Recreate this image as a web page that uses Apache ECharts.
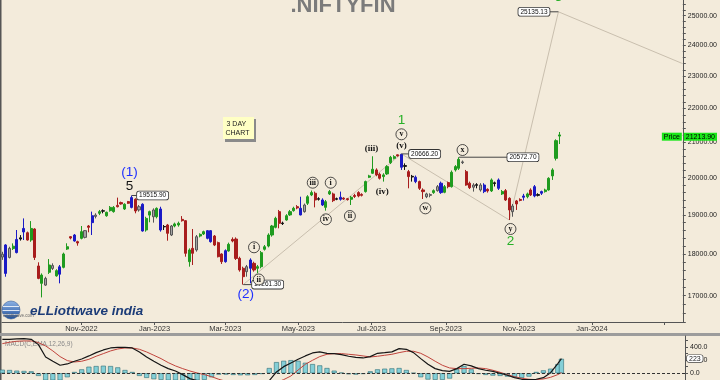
<!DOCTYPE html>
<html><head><meta charset="utf-8">
<script src="https://cdn.jsdelivr.net/npm/echarts@6/dist/echarts.min.js"></script>
<style>html,body{margin:0;padding:0;background:#f3ebdb;}#c{width:720px;height:380px;}</style>
</head><body><div id="c"></div>
<script>
// ---------- data ----------
const firstBarDate = '2022-08-27';   // date of first 3-day bar
const barStepDays = 3;
const open = [
17930,18230,17920,18140,18040,18380,18560,18540,18355,18636,
17710,17292,17410,17557,17720,17470,17510,17677,18128,18440,
18482,18314,18397,18593,18713,18800,18996,19043,19100,18979,
19113,19087,19252,19326,19157,19352,19199,19414,19216,19282,
18610,18996,19131,18953,19157,18700,18739,18482,18713,18739,
18885,18851,17816,18145,18105,18456,18508,18593,18593,18456,
18289,18005,17816,18080,18372,18380,17898,17654,17572,17654,
17775,17654,17693,18122,18203,18482,18679,19087,18790,18868,
19000,19113,19218,19175,19087,19308,19530,19577,19430,19396,
19200,19558,19558,19430,19414,19445,19430,19414,19515,19594,
19545,19621,20013,20123,20215,20096,20031,20105,20418,20541,
20640,20655,20336,20168,20040,20013,19893,19665,19483,19520,
19594,19647,19594,19603,19866,19755,20215,20262,20440,20168,
19849,19740,19810,19800,19621,19683,19640,19860,19938,19558,
19647,19440,19087,19370,19410,19468,19483,19665,19503,19540,
19577,19621,19665,20050,20541,21180];
const close = [
18000,17530,18145,18200,18370,18410,18650,18355,18650,17920,
17410,17490,17250,17734,17650,17597,17690,18005,18186,18405,
18330,18280,18568,18422,18679,18979,18962,19087,19110,19069,
19199,19199,19216,19290,19282,19308,19459,19104,19131,18585,
18910,19087,18953,19173,18610,18690,18525,18713,18766,18783,
18851,18022,18105,18022,18439,18499,18568,18397,18314,18229,
17938,17816,18088,18246,18330,17895,17613,17451,17693,17857,
17613,17693,18039,18186,18482,18713,18912,18783,18775,18980,
19087,19175,19184,19000,19262,19483,19594,19396,19415,19262,
19351,19621,19378,19415,19468,19420,19405,19468,19490,19503,
19520,19893,20050,20234,20077,19985,20077,20308,20570,20588,
20610,20290,20315,20031,20020,19893,19710,19621,19558,19540,
19647,19755,19849,19755,19755,20150,20308,20512,20420,19800,
19728,19800,19790,19665,19800,19640,19938,19840,19710,19621,
19396,19131,19235,19290,19385,19503,19558,19530,19755,19520,
19621,19665,19983,20215,21047,21213.9];
const low = [
17860,17450,17895,18105,18020,18340,18355,18340,18310,17857,
17390,16960,17230,17517,17613,17451,17292,17653,18105,18372,
18314,18212,18372,18397,18551,18482,18910,18996,19043,18953,
19087,19060,19199,19270,19131,19290,19173,19043,19087,18568,
18568,18809,18800,18910,18568,18610,18338,18456,18679,18696,
18826,17938,17693,17734,18063,18422,18482,18372,18289,18203,
17920,17759,17791,18063,18297,17857,17572,17261.3,17451,17292,
17572,17533,17654,18090,18170,18440,18653,18653,18739,18850,
18975,19087,19150,18990,19060,19262,19500,19200,19380,19235,
19113,19530,19340,19390,19378,19396,19380,19262,19450,19468,
19490,19594,19990,20105,20040,19950,19893,20077,20380,20510,
20590,20215,20215,19710,19893,19850,19665,19422,19445,19468,
19560,19620,19560,19577,19710,19730,20170,20215,20380,19780,
19690,19621,19710,19621,19580,19594,19610,19760,19665,19530,
19370,18868,18953,19131,19360,19380,19440,19503,19468,19490,
19530,19594,19647,19938,20480,20950];
const high = [
18060,18250,18186,18270,18610,18480,18910,18570,18840,18655,
17800,17530,17450,17880,17775,17630,17734,18039,18272,18456,
18508,18338,18713,18610,18739,19087,19043,19131,19148,19087,
19234,19234,19459,19352,19308,19370,19515.9,19441,19261,19308,
18953,19113,19173,19199,19216,18739,18766,18739,18800,18826,
18970,18868,18145,18636,18482,18525,18593,18610,18610,18482,
18314,18022,18120,18289,18422,18422,17938,17693,17735,17898,
17815,17735,18080,18229,18525,18740,18953,19131,18826,19020,
19131,19216,19260,19483,19300,19525,19650,19621,19470,19440,
19396,19665,19594,19460,19621,19468,19450,19503,19560,19630,
19575,19920,20080,20600,20260,20140,20123,20350,20610,20630,
20650,20666.2,20400,20215,20077,20060,19920,19710,19590,19575,
19680,19800,19893,19800,19893,20200,20350,20572.7,20480,20215,
19893,19849,19850,19849,19849,19710,19980,19893,19980,19665,
19690,19468,19290,19396,19440,19560,19594,19710,19800,19577,
19647,19700,20013,20262,21087,21300];
// bar colour codes: g green, r red, b blue, k grey, x black
const barColor = 'kbkgbxbrgr'+'rgkgkgbggr'+'brgkrbkgxg'+'ggrrgrbrkb'+'ggkgbxrkgg'+
  'rrgrkggbbr'+'rrbgrrrrkb'+'rggggggrxg'+'ggrbkggrxb'+'ggrxbrrgrr'+'rgggrrgggg'+
  'rbxrxbrrkk'+'gkbgrgggkr'+'rkxkbrgxbg'+'rrkrrbgrbx'+'bggggg';

// MACD(12,26,9) pane, sampled every 2nd bar (+ last bar)
const macdSampleEvery = 2;
const macd = [517,517,522,527,517,436,248,183,122,142, 183,218,264,314,355,385,395,395,385,324,
  248,183,122,71,35,-20,-81,-112,-132,-132, -142,-170,-210,-240,-250,-230,-180,-112,20,101,
  157,213,264,309,325,304,299,284,259,243, 233,254,304,314,325,375,365,314,223,137,
  71,41,30,71,137,112,71,46,30,0, -30,-66,-91,-96,-91,-66,10,147,223];
const signal = [451,472,487,492,492,466,416,340,254,193, 172,183,213,259,299,340,370,385,385,365,
  324,274,223,162,112,71,35,5,-20,-51, -91,-122,-150,-170,-185,-190,-185,-170,-140,-96,
  -41,50,137,198,254,289,299,299,289,279, 264,248,259,274,289,314,335,335,304,248,
  183,122,81,71,71,76,81,71,46,15, -20,-51,-76,-91,-96,-86,-61,-20,10];
const hist = [55,50,40,35,30,-40,-150,-150,-130,-60, 20,60,100,110,115,110,90,50,20,-40,
  -70,-90,-100,-120,-130,-130,-120,-110,-100,-60, -20,-20,-25,-30,-30,-25,-10,80,170,190,
  200,190,160,140,120,80,40,10,-15,-20, -10,30,60,70,75,80,50,5,-60,-95,
  -100,-100,-80,60,110,60,-10,-25,-35,-40, -50,-60,-70,-50,20,45,70,140,220];
const macdLastLabel = 223;

// Elliott wave path and price tags
const waveDates  = ['2023-03-16','2023-07-26','2023-10-24','2023-12-04','2024-03-16'];
const wavePrices = [17261.3, 20666.2, 18868, 25135.13, 23414];
const tagDates    = ['2022-12-13','2023-03-16','2023-07-26','2023-09-12','2023-12-04'];
const tagBoxDates = ['2022-12-17','2023-03-23','2023-08-01','2023-10-22','2023-11-27'];
const tagPrices   = [19515.9, 17261.3, 20666.2, 20572.7, 25135.13];
const tagSide     = ['right','right','right','right','left'];

const annoText  = ['(1)','5','(2)','i','ii','iii','iv','i','ii','(iii)','(iv)','v','(v)','1','w','x','y','2','3'];
const annoDate  = ['2022-12-11','2022-12-11','2023-03-18','2023-03-25','2023-03-29','2023-05-13','2023-05-24',
  '2023-05-28','2023-06-13','2023-07-01','2023-07-10','2023-07-26','2023-07-26','2023-07-26','2023-08-15',
  '2023-09-15','2023-10-25','2023-10-25','2023-12-04'];
const annoPrice = [20150,19773,17040,18172,17384,19863,18886,19863,18972,20821,19618,21232,20893,21654,19174,20778,18636,18330,25652];
const annoKind  = ['blue','black','blue','circ','circ','circ','circ','circ','circ','paren','paren','circ','paren','green','circ','circ','circ','green','green'];

// axes
const xLabelDates = ['2022-11-01','2023-01-01','2023-03-01','2023-05-01','2023-07-01','2023-09-01','2023-11-01','2024-01-01'];
const xTickDates = xLabelDates.concat(['2024-03-01']);
const priceLabels = [17000,18000,19000,20000,21000,22000,23000,24000,25000];
const priceMinorStep = 200;
const priceMin = 16395, priceMax = 25547;
const macdLabels = [0,200,400];
const macdTicks = [0,100,200,300,400,500];
const macdMin = -102, macdMax = 567;

// ---------- build ----------
const DAY = 86400000;
function ts(s){const p=s.split('-').map(Number);return Date.UTC(p[0],p[1]-1,p[2]);}
const t0 = ts(firstBarDate);
const barTime = i => t0 + i*barStepDays*DAY;
const L = Math.log;
const xMin = Date.UTC(2022,7,26,17), xMax = Date.UTC(2024,2,16,19);
const MON = ['Jan','Feb','Mar','Apr','May','Jun','Jul','Aug','Sep','Oct','Nov','Dec'];
const palette = {g:'#1f9b1f', r:'#a81d1d', b:'#1a1ac6', k:'#a4a4a4', x:'#111111'};
const FONT = 'Liberation Sans';
const HIDDEN = {color:'rgba(0,0,0,0)', width:0};

const candleData = open.map((o,i)=>{
  const code = barColor[i];
  const c = palette[code];
  const bc = code==='k' ? '#555555' : c;
  return {value:[barTime(i), L(o), L(close[i]), L(low[i]), L(high[i])],
    itemStyle:{color:c,color0:c,borderColor:bc,borderColor0:bc,borderColorDoji:bc}};
});
const lastPrice = close[close.length-1];

const minorTicks = [];
for (let v = Math.ceil(priceMin/priceMinorStep)*priceMinorStep; v <= priceMax; v += priceMinorStep) minorTicks.push(L(v));

const macdBar = macd.map((_,k)=> Math.min(k*macdSampleEvery, open.length-1));

const annoStyles = {
  blue:{color:'#1f30ff', fontSize:13.5, fontFamily:FONT},
  black:{color:'#141414', fontSize:13.5, fontFamily:FONT},
  green:{color:'#27b027', fontSize:13.5, fontFamily:FONT},
  circ:{color:'#111', fontSize:8, fontFamily:'Liberation Serif', fontWeight:'bold'},
  paren:{color:'#111', fontSize:9, fontFamily:'Liberation Serif', fontWeight:'bold'}
};
const annoData = annoText.map((t,i)=>{
  const k = annoKind[i];
  const circ = k==='circ';
  return {value:[ts(annoDate[i]), L(annoPrice[i])],
    symbol:'circle', symbolSize: circ?11:1,
    itemStyle: circ?{color:'#f3ebdb',borderColor:'#222',borderWidth:0.8,opacity:1}:{color:'rgba(0,0,0,0)',opacity:1},
    label:Object.assign({show:true, position:'inside', formatter:t, opacity:1, textBorderWidth:0}, annoStyles[k])};
});

const connectorSeries = tagDates.map((d,i)=>({
  type:'line', xAxisIndex:0, yAxisIndex:0, symbol:'none', silent:true, clip:false, z:4,
  lineStyle:{color:'#444', width:1},
  data:[[ts(d), L(tagPrices[i])],[ts(tagBoxDates[i]), L(tagPrices[i])]]
}));

const tagSeries = {
  type:'scatter', xAxisIndex:0, yAxisIndex:0, silent:true, clip:false, z:6,
  symbol:'circle', symbolSize:1, itemStyle:{color:'rgba(0,0,0,0)', opacity:1},
  data: tagPrices.map((p,i)=>({value:[ts(tagBoxDates[i]), L(p)],
    label:{show:true, position:tagSide[i], distance:0, formatter:p.toFixed(2), opacity:1,
      backgroundColor:'#ffffff', borderColor:'#333', borderWidth:0.8, borderRadius:2,
      padding:[1,2,0,2], fontSize:6.5, color:'#111', fontFamily:FONT}}))
};

const option = {
  animation:false,
  backgroundColor:'#f3ebdb',
  grid:[{left:2, top:0, width:683, height:322},{left:2, top:336, width:683, height:44}],
  xAxis:[
    {type:'value', gridIndex:0, min:xMin, max:xMax,
     axisLine:{show:true,onZero:false,lineStyle:{color:'#555',width:1}},
     axisTick:{show:true, customValues:xTickDates.map(ts), length:3, lineStyle:{color:'#555'}},
     axisLabel:{customValues:xLabelDates.map(ts), margin:3, fontSize:7.5, color:'#333', fontFamily:FONT,
       formatter:v=>{const d=new Date(v);return MON[d.getUTCMonth()]+'-'+d.getUTCFullYear();}},
     splitLine:{show:false}},
    {type:'value', gridIndex:1, min:xMin, max:xMax, show:false, splitLine:{show:false}}
  ],
  yAxis:[
    {type:'value', gridIndex:0, position:'right', min:L(priceMin), max:L(priceMax),
     axisLine:{show:true,onZero:false,lineStyle:{color:'#555',width:1}},
     axisTick:{show:true, customValues:minorTicks, length:3, lineStyle:{color:'#555'}},
     axisLabel:{customValues:priceLabels.map(L), margin:5, fontSize:7, color:'#222', fontFamily:FONT,
       formatter:v=>Math.exp(v).toFixed(2)},
     splitLine:{show:false}},
    {type:'value', gridIndex:1, position:'right', min:macdMin, max:macdMax,
     axisLine:{show:true,onZero:false,lineStyle:{color:'#555',width:1}},
     axisTick:{show:true, customValues:macdTicks, length:3, lineStyle:{color:'#555'}},
     axisLabel:{customValues:macdLabels, margin:5, fontSize:7, color:'#222', fontFamily:FONT,
       formatter:v=>v.toFixed(1)},
     splitLine:{show:false}}
  ],
  series:[
    {type:'line', name:'wave', xAxisIndex:0, yAxisIndex:0, symbol:'none', silent:true, z:1,
     lineStyle:{color:'#c9bfae', width:1},
     data: waveDates.map((d,i)=>[ts(d), L(wavePrices[i])])},
    {type:'candlestick', name:'.NIFTYFIN', xAxisIndex:0, yAxisIndex:0, z:3,
     barWidth:2.6, itemStyle:{borderWidth:1},
     data:candleData,
     markLine:{silent:true, symbol:'none', animation:false, lineStyle:HIDDEN,
       data:[
         {yAxis:L(lastPrice), label:{show:true, position:'end', distance:1, formatter:lastPrice.toFixed(2),
           backgroundColor:'#19e619', color:'#000', fontSize:7, padding:[1,2,0,2], fontFamily:FONT}},
         {yAxis:L(lastPrice), label:{show:true, position:'insideEnd', distance:1, formatter:'Price',
           backgroundColor:'#19e619', color:'#000', fontSize:7, padding:[1,2,0,2], fontFamily:FONT}}
       ]}},
    ...connectorSeries,
    tagSeries,
    {type:'scatter', name:'waves', xAxisIndex:0, yAxisIndex:0, silent:true, clip:false, z:7, data:annoData},
    {type:'bar', name:'hist', xAxisIndex:1, yAxisIndex:1, barWidth:5, z:2,
     itemStyle:{color:'#84cfd7', borderColor:'#2e6c74', borderWidth:0.6},
     data: hist.map((v,k)=>[barTime(macdBar[k]), v]),
     markLine:{silent:true, symbol:'none', animation:false, label:{show:false},
       lineStyle:{color:'#333', type:[3,2], width:1}, data:[{yAxis:0}]}},
    {type:'line', name:'signal', xAxisIndex:1, yAxisIndex:1, symbol:'none', z:3,
     lineStyle:{color:'#c0443c', width:1},
     data: signal.map((v,k)=>[barTime(macdBar[k]), v])},
    {type:'line', name:'macd', xAxisIndex:1, yAxisIndex:1, symbol:'none', z:4,
     lineStyle:{color:'#151515', width:1.2},
     data: macd.map((v,k)=>[barTime(macdBar[k]), v]),
     markLine:{silent:true, symbol:'none', animation:false, lineStyle:HIDDEN,
       data:[{yAxis:macdLastLabel, label:{show:true, position:'end', distance:2, formatter:String(macdLastLabel),
         backgroundColor:'#fff', borderColor:'#444', borderWidth:0.7, borderRadius:2, padding:[0,2,0,2],
         color:'#222', fontSize:7, fontFamily:FONT}}]}}
  ],
  graphic:[
    {type:'rect', shape:{x:0,y:0,width:1.5,height:380}, style:{fill:'#555'}, silent:true},
    {type:'rect', shape:{x:0,y:333,width:720,height:3}, style:{fill:'#9c9c9c'}, silent:true},
    {type:'text', x:343, y:5.5, silent:true,
     style:{text:'.NIFTYFIN', fontSize:22, fontWeight:'bold', fontFamily:FONT, fill:'#7b7b7b', align:'center', verticalAlign:'middle'}},
    {type:'rect', shape:{x:225,y:119,width:31,height:23}, style:{fill:'#8a8a8a'}, silent:true},
    {type:'rect', shape:{x:223,y:117,width:31,height:22}, style:{fill:'#ffffc4'}, silent:true},
    {type:'text', x:226.5, y:124, silent:true, style:{text:'3 DAY', fontSize:7, fontFamily:FONT, fill:'#222', verticalAlign:'middle'}},
    {type:'text', x:225.5, y:133, silent:true, style:{text:'CHART', fontSize:7, fontFamily:FONT, fill:'#222', verticalAlign:'middle'}},
    {type:'circle', shape:{cx:11,cy:310,r:9}, silent:true,
     style:{fill:new echarts.graphic.LinearGradient(0,0,0,1,[{offset:0,color:'#8fb4e6'},{offset:1,color:'#1f4f9a'}]), stroke:'#3a5f9a', lineWidth:0.6}},
    {type:'rect', shape:{x:3,y:306,width:16,height:1}, style:{fill:'rgba(255,255,255,0.8)'}, silent:true},
    {type:'rect', shape:{x:2.5,y:310,width:17,height:1}, style:{fill:'rgba(255,255,255,0.8)'}, silent:true},
    {type:'rect', shape:{x:3,y:314,width:16,height:1}, style:{fill:'rgba(255,255,255,0.8)'}, silent:true},
    {type:'text', x:3, y:316, silent:true, style:{text:'elliottwave.com', fontSize:4.5, fontFamily:FONT, fill:'#666', verticalAlign:'middle'}},
    {type:'text', x:30, y:311, silent:true,
     style:{text:'eLLiottwave india', fontSize:13.5, fontStyle:'italic', fontWeight:'bold', fontFamily:FONT, fill:'#1c3c78', verticalAlign:'middle'}},
    {type:'text', x:5, y:344, silent:true, style:{text:'MACD(C,EMA,12,26,9)', fontSize:6.5, fontFamily:FONT, fill:'#8a8a8a', verticalAlign:'middle'}}
  ]
};
const chart = echarts.init(document.getElementById('c'), null, {renderer:'canvas'});
chart.setOption(option);
</script>
</body></html>
